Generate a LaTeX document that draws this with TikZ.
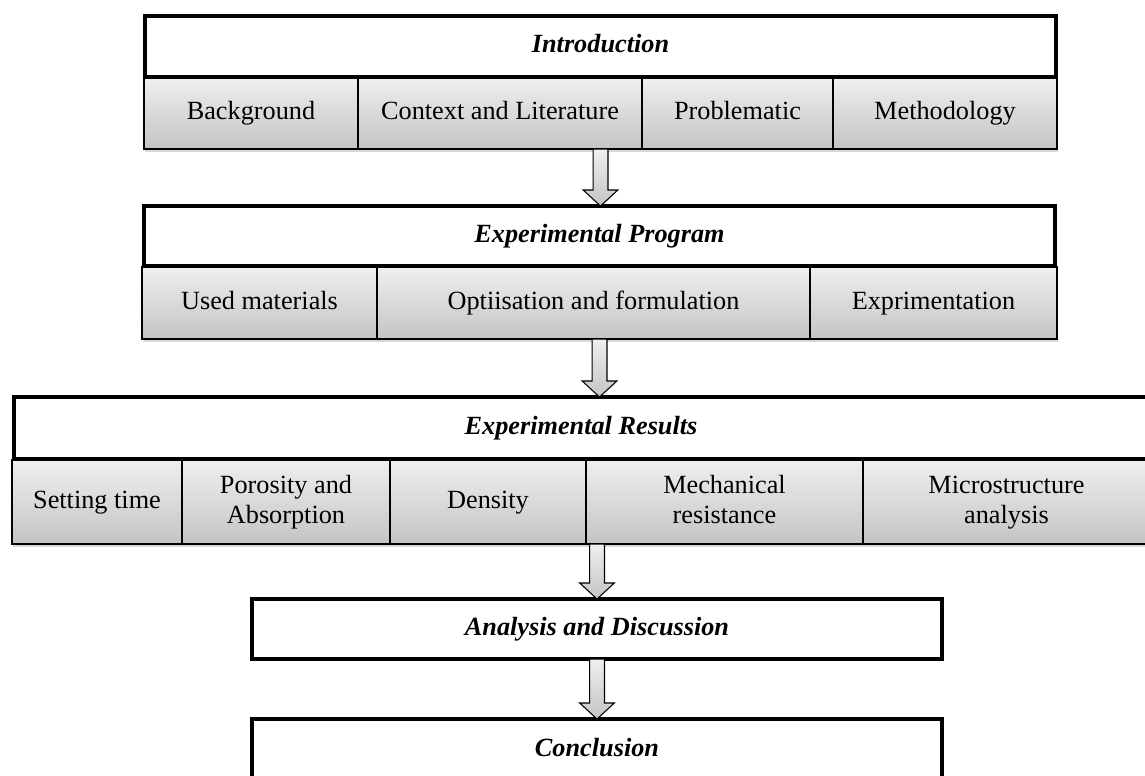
\documentclass[tikz,border=0pt]{standalone}
\usepackage{fontspec}
\setmainfont{Liberation Serif}
\usetikzlibrary{calc,shadows}

\definecolor{boxtop}{HTML}{EFEFEF}
\definecolor{boxbot}{HTML}{C4C4C4}

\tikzset{
  boxsize/.style 2 args={minimum width=#1*0.75pt, minimum height=#2*0.75pt},
  header/.style={draw, line width=3pt, fill=white, anchor=north west, inner sep=0pt, outer sep=0pt,
    text height=13.5pt, text depth=4.5pt,
    font=\fontsize{19.7}{23}\selectfont\bfseries\itshape},
  subbox/.style={draw, line width=0.8pt, top color=boxtop, bottom color=boxbot, anchor=north west,
    inner sep=0pt, outer sep=0pt, align=center, font=\fontsize{19.7}{22.5}\selectfont,
    drop shadow={shadow xshift=0.8pt, shadow yshift=-2.2pt, opacity=0.3}},
  oneline/.style={subbox, text height=13.5pt, text depth=4.5pt},
  arrowbody/.style={draw, line width=0.8pt, top color=boxtop, bottom color=boxbot}
}

% hollow block arrow between two points (same x)
\newcommand{\flowarrow}[2]{%
  \path[arrowbody] let \p1=#1, \p2=#2 in
    (\x1-5.6pt,\y1) -- (\x1+5.6pt,\y1) -- (\x1+5.6pt,\y2-12pt) -- (\x1+13pt,\y2-12pt)
    -- (\x1,\y2) -- (\x1-13pt,\y2-12pt) -- (\x1-5.6pt,\y2-12pt) -- cycle;}

\begin{document}
\begin{tikzpicture}[x=0.75pt,y=0.75pt,yscale=-1,xscale=1]
        \useasboundingbox (0,0) rectangle (1145,775);

        %Header: Introduction
        \node [header, boxsize={911}{61}] (intro) at (145,16) {Introduction};
        %Sub boxes
        \node [oneline, boxsize={214}{71}] (bg) at (144,78) {Background};
        \node [oneline, boxsize={284}{71}] (ctx) at (358,78) {Context and Literature};
        \node [oneline, boxsize={191}{71}] (prob) at (642,78) {Problematic};
        \node [oneline, boxsize={224}{71}] (meth) at (833,78) {Methodology};

        %Header: Experimental Program
        \node [header, boxsize={911}{60}] (prog) at (144,206) {Experimental Program};
        %Sub boxes
        \node [oneline, boxsize={235}{72}] (used) at (142,267) {Used materials};
        \node [oneline, boxsize={433}{72}] (opt) at (377,267) {Optiisation and formulation};
        \node [oneline, boxsize={247}{72}] (expr) at (810,267) {Exprimentation};

        %Header: Experimental Results
        \node [header, boxsize={1134}{62}] (res) at (14,397) {Experimental Results};
        %Sub boxes
        \node [oneline, boxsize={170}{84}] (set) at (12,460) {Setting time};
        \node [subbox, boxsize={208}{84}] (por) at (182,460) {Porosity and\strut\\Absorption\strut};
        \node [oneline, boxsize={196}{84}] (den) at (390,460) {Density};
        \node [subbox, boxsize={277}{84}] (mech) at (586,460) {Mechanical\strut\\resistance\strut};
        \node [subbox, boxsize={287}{84}] (micro) at (863,460) {Microstructure\strut\\analysis\strut};

        %Header: Analysis and Discussion
        \node [header, boxsize={690}{60}] (anal) at (252,599) {Analysis and Discussion};
        %Header: Conclusion
        \node [header, boxsize={690}{62}] (concl) at (252,719) {Conclusion};

        %Arrows
        \flowarrow{(intro.center |- bg.south)}{(intro.center |- prog.north)}
        \flowarrow{(prog.center |- used.south)}{(prog.center |- res.north)}
        \flowarrow{(anal.center |- set.south)}{(anal.north)}
        \flowarrow{(anal.south)}{(concl.north)}
\end{tikzpicture}
\end{document}
